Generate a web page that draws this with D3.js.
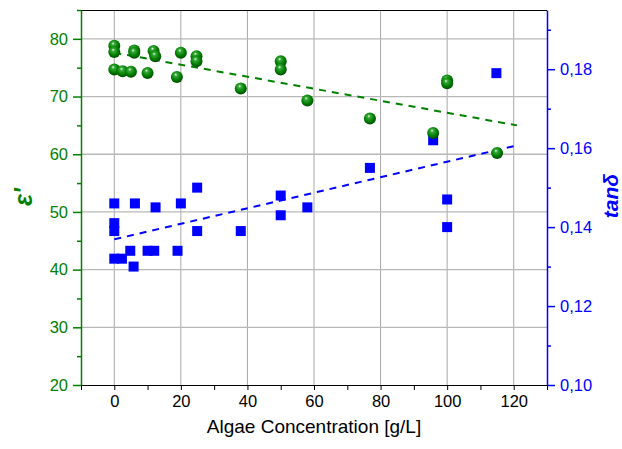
<!DOCTYPE html>
<html>
<head>
<meta charset="utf-8">
<script src="https://cdn.jsdelivr.net/npm/d3@7"></script>
<style>
  body { margin: 0; background: #fff; }
  text { font-family: "Liberation Sans", Arial, sans-serif; }
</style>
</head>
<body>
<div id="chart"></div>
<script>
// epsilon' (green spheres)
var epsX = [0, 0, 0, 2.5, 5, 6, 6, 11.8, 12.3, 10, 20, 18.8, 24.7, 24.7, 38, 50, 50, 58, 76.8, 100, 100, 95.8, 115];
var epsY = [78.8, 77.7, 74.7, 74.4, 74.3, 78.0, 77.6, 77.9, 77.0, 74.1, 77.6, 73.4, 77.0, 76.1, 71.4, 76.1, 74.7, 69.3, 66.2, 72.8, 72.3, 63.7, 60.2];

// tan delta (blue squares)
var tanX = [0, 0, 0, 0, 2.3, 4.8, 5.8, 10, 12, 19, 6.2, 12.4, 20, 24.9, 24.9, 38, 50, 50, 58, 76.8, 95.8, 100, 100, 114.8];
var tanY = [0.146, 0.141, 0.139, 0.132, 0.132, 0.134, 0.130, 0.134, 0.134, 0.134, 0.146, 0.145, 0.146, 0.150, 0.139, 0.139, 0.148, 0.143, 0.145, 0.155, 0.162, 0.147, 0.140, 0.179];

// linear fit lines (endpoints)
var fitX = [0, 121];
var fitEps = [77.6, 65.0];
var fitTan = [0.1369, 0.1607];

var xTicks = [0, 20, 40, 60, 80, 100, 120];
var epsTicks = [20, 30, 40, 50, 60, 70, 80];
var tanTicks = [0.10, 0.12, 0.14, 0.16, 0.18];

var width = 622, height = 449;
var padL = 81, padR = 547, padT = 10, padB = 385;
var green = "#008000", blue = "#0000ff";

var x = d3.scaleLinear().domain([-10, 130]).range([padL, padR]);
var yE = d3.scaleLinear().domain([20, 85]).range([padB, padT]);
var yT = d3.scaleLinear().domain([0.10, 0.195]).range([padB, padT]);

var svg = d3.select("#chart").append("svg")
    .attr("width", width)
    .attr("height", height);

var defs = svg.append("defs");
var grad = defs.append("radialGradient").attr("id", "ball")
    .attr("cx", "45%").attr("cy", "40%").attr("r", "60%")
    .attr("fx", "40%").attr("fy", "30%");
grad.append("stop").attr("offset", "0%").attr("stop-color", "#e8ffe8");
grad.append("stop").attr("offset", "22%").attr("stop-color", "#3aa83a");
grad.append("stop").attr("offset", "65%").attr("stop-color", "#008000");
grad.append("stop").attr("offset", "100%").attr("stop-color", "#004a00");

// grid
svg.append("g").selectAll("line")
    .data(xTicks).enter().append("line")
    .attr("x1", function (d) { return x(d); })
    .attr("x2", function (d) { return x(d); })
    .attr("y1", padT).attr("y2", padB)
    .attr("stroke", "#a8a8a8").attr("stroke-width", 1);

svg.append("g").selectAll("line")
    .data(epsTicks.slice(1)).enter().append("line")
    .attr("x1", padL).attr("x2", padR)
    .attr("y1", function (d) { return yE(d); })
    .attr("y2", function (d) { return yE(d); })
    .attr("stroke", "#b8b8b8").attr("stroke-width", 1.3);

// frame top
svg.append("line").attr("x1", padL).attr("x2", padR).attr("y1", padT + 0.5).attr("y2", padT + 0.5)
    .attr("stroke", "#000").attr("stroke-width", 1);

// axes
var xAxis = svg.append("g")
    .attr("transform", "translate(0," + padB + ")")
    .call(d3.axisBottom(x).tickValues(d3.range(-10, 131, 10)).tickSize(5).tickFormat(function (d) {
        return xTicks.indexOf(d) >= 0 ? d : "";
    }));
xAxis.select(".domain").attr("stroke", "#000");
xAxis.selectAll("text").attr("font-size", "16.5px").attr("fill", "#000").attr("dy", "0.85em");

var lAxis = svg.append("g")
    .attr("transform", "translate(" + padL + ",0)")
    .call(d3.axisLeft(yE).tickValues(d3.range(20, 86, 5)).tickSize(0).tickPadding(13).tickFormat(function (d) {
        return epsTicks.indexOf(d) >= 0 ? d : "";
    }));
lAxis.select(".domain").attr("stroke", green).attr("stroke-width", 1.5);
lAxis.selectAll(".tick line").attr("stroke", green).attr("stroke-width", 1.5)
    .attr("x2", function (d) { return epsTicks.indexOf(d) >= 0 ? -8 : -4; });
lAxis.selectAll("text").attr("font-size", "16.5px").attr("fill", green);

var rAxis = svg.append("g")
    .attr("transform", "translate(" + padR + ",0)")
    .call(d3.axisRight(yT).tickValues(d3.range(0, 10).map(function (i) { return 0.10 + i * 0.01; })).tickSize(0).tickPadding(13)
        .tickFormat(function (d) {
            var r = Math.round(d * 100);
            return r % 2 === 0 ? d3.format(".2f")(d).replace(".", ",") : "";
        }));
rAxis.select(".domain").attr("stroke", blue).attr("stroke-width", 1.5);
rAxis.selectAll(".tick line").attr("stroke", blue).attr("stroke-width", 1.5)
    .attr("x2", function (d) { return Math.round(d * 100) % 2 === 0 ? 8 : 4; });
rAxis.selectAll("text").attr("font-size", "16.5px").attr("fill", blue);

// fit lines
var line = d3.line();
svg.append("path")
    .attr("d", line(fitX.map(function (d, i) { return [x(d), yE(fitEps[i])]; })))
    .attr("stroke", green).attr("stroke-width", 2).attr("stroke-dasharray", "7,6").attr("fill", "none");
svg.append("path")
    .attr("d", line(fitX.map(function (d, i) { return [x(d), yT(fitTan[i])]; })))
    .attr("stroke", blue).attr("stroke-width", 2).attr("stroke-dasharray", "7,6").attr("fill", "none");

// blue squares
svg.append("g").selectAll("rect")
    .data(tanX).enter().append("rect")
    .attr("x", function (d) { return x(d) - 5; })
    .attr("y", function (d, i) { return yT(tanY[i]) - 5; })
    .attr("width", 10).attr("height", 10)
    .attr("fill", blue);

// green spheres
svg.append("g").selectAll("circle")
    .data(epsX).enter().append("circle")
    .attr("cx", function (d) { return x(d); })
    .attr("cy", function (d, i) { return yE(epsY[i]); })
    .attr("r", 6)
    .attr("fill", "url(#ball)");

// axis titles
svg.append("text")
    .attr("x", (padL + padR) / 2).attr("y", 433)
    .attr("text-anchor", "middle").attr("font-size", "19px").attr("fill", "#000")
    .text("Algae Concentration [g/L]");

svg.append("text")
    .attr("transform", "translate(32,197) rotate(-90)")
    .attr("text-anchor", "middle").attr("font-size", "25px").attr("font-weight", "bold")
    .attr("font-style", "italic").attr("fill", green)
    .text("ε'");

svg.append("text")
    .attr("transform", "translate(618,196) rotate(-90)")
    .attr("text-anchor", "middle").attr("font-size", "21px").attr("font-weight", "bold")
    .attr("font-style", "italic").attr("fill", blue)
    .text("tanδ");
</script>
</body>
</html>
